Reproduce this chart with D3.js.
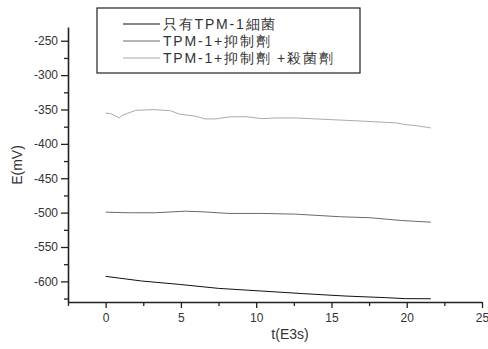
<!DOCTYPE html>
<html>
<head>
<meta charset="utf-8">
<script src="https://cdn.jsdelivr.net/npm/d3@7"></script>
<style>
body { margin: 0; background: #fff; }
svg text { font-family: "Liberation Sans", Arial, sans-serif; }
</style>
</head>
<body>
<svg width="488" height="349"></svg>
<script>
// series: time in E3 s, potential in mV
var seriesNames = ["只有TPM-1細菌", "TPM-1+抑制劑", "TPM-1+抑制劑 +殺菌劑"];
var seriesColors = ["#111", "#6a6a6a", "#ababab"];

var t1 = [0, 2.4, 4.9, 7.5, 10.4, 13.1, 15.9, 18.6, 19.9, 21.6];
var e1 = [-592.7, -599.5, -604.4, -610.2, -614.1, -617.8, -621.3, -623.7, -625.1, -625.3];

var t2 = [0, 1.5, 3.3, 5.3, 6.4, 8.2, 10.4, 12.6, 15.6, 17.6, 19.6, 21.6];
var e2 = [-499.3, -500.2, -500.2, -497.9, -498.8, -501.2, -501.2, -502.2, -506.0, -507.5, -511.4, -513.9];

var t3 = [0, 0.4, 0.9, 1.1, 2.0, 3.2, 4.3, 4.85, 6.0, 6.6, 7.3, 8.2, 9.3, 10.4, 11.3, 12.6, 13.95, 15.9, 17.3, 18.6, 19.3, 19.9, 20.6, 21.6];
var e3 = [-355.0, -356.4, -362.3, -358.5, -351.2, -350.2, -351.7, -356.4, -359.9, -363.7, -363.7, -360.8, -360.4, -363.3, -362.3, -362.3, -363.7, -365.7, -367.2, -368.7, -369.5, -372.0, -373.4, -376.8];

var xMajor = [0, 5, 10, 15, 20, 25];
var xMinor = [-2.5, 2.5, 7.5, 12.5, 17.5, 22.5];
var yMajor = [-250, -300, -350, -400, -450, -500, -550, -600];
var yMinor = [-275, -325, -375, -425, -475, -525, -575, -625];

var svg = d3.select("svg");
var margin = { top: 27, right: 6, bottom: 47, left: 68 };
var width = +svg.attr("width") - margin.left - margin.right;
var height = +svg.attr("height") - margin.top - margin.bottom;
var g = svg.append("g").attr("transform", "translate(" + margin.left + ", " + margin.top + ")");

var x = d3.scaleLinear().domain([-2.5, 25]).range([0, width]);
var y = d3.scaleLinear().domain([-630, -230]).range([height, 0]);

// minor ticks first, then the major axes on top
g.append("g").attr("transform", "translate(0, " + height + ")")
    .call(d3.axisBottom(x).tickValues(xMinor).tickSize(4).tickFormat(""))
    .select(".domain").remove();
g.append("g")
    .call(d3.axisLeft(y).tickValues(yMinor).tickSize(4).tickFormat(""))
    .select(".domain").remove();

g.append("g").attr("transform", "translate(0, " + height + ")")
    .call(d3.axisBottom(x).tickValues(xMajor).tickSize(6).tickSizeOuter(0).tickPadding(5));
g.append("g")
    .call(d3.axisLeft(y).tickValues(yMajor).tickSize(7).tickSizeOuter(0).tickPadding(3)
        .tickFormat(function (d) { return String(d); }));

g.selectAll(".tick line").attr("stroke", "#222").attr("stroke-width", 1.3);
g.selectAll(".domain").attr("stroke", "#222").attr("stroke-width", 1.6);
g.selectAll(".tick text").attr("fill", "#333").style("font-size", "12px");

var line = d3.line().x(function (d) {
    return x(d[0]);
}).y(function (d) {
    return y(d[1]);
});

var data = [d3.zip(t1, e1), d3.zip(t2, e2), d3.zip(t3, e3)];
g.selectAll(".series").data(data).enter().append("path")
    .attr("class", "series")
    .attr("fill", "none")
    .attr("stroke", function (d, i) { return seriesColors[i]; })
    .attr("stroke-width", 1)
    .attr("stroke-linejoin", "round")
    .attr("d", line);

// axis titles
svg.append("text").attr("x", 290).attr("y", 339).attr("text-anchor", "middle")
    .attr("fill", "#333").style("font-size", "14px").text("t(E3s)");
svg.append("text").attr("transform", "translate(22, 165) rotate(-90)").attr("text-anchor", "middle")
    .attr("fill", "#333").style("font-size", "14px").text("E(mV)");

// legend
var legend = svg.append("g").attr("transform", "translate(97, 8)");
legend.append("rect").attr("width", 263).attr("height", 65)
    .attr("fill", "#fff").attr("stroke", "#222").attr("stroke-width", 1.2);
var row = legend.selectAll(".row").data(seriesNames).enter().append("g")
    .attr("transform", function (d, i) { return "translate(0, " + (16 + i * 17) + ")"; });
row.append("line").attr("x1", 26).attr("x2", 63)
    .attr("stroke", function (d, i) { return seriesColors[i]; }).attr("stroke-width", 1);
row.append("text").attr("x", 66).attr("dy", "0.35em")
    .attr("fill", "#333").style("font-size", "14px").style("letter-spacing", "1.8px")
    .text(function (d) { return d; });
</script>
</body>
</html>
